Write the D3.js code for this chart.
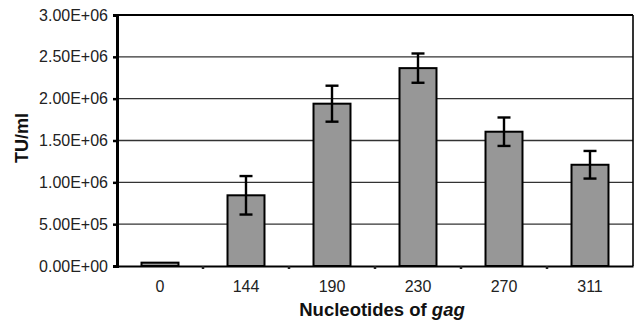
<!DOCTYPE html>
<html lang="en">
<head>
<meta charset="UTF-8" />
<title>TU/ml by nucleotides of gag</title>
<script src="https://d3js.org/d3.v7.min.js"></script>
<style>
  body { margin: 0; background: #fff; }
  .grid line { stroke: #333; stroke-width: 1.3px; }
  .bar { fill: #979797; stroke: #000; stroke-width: 2px; }
  .err { stroke: #000; stroke-width: 2.4px; fill: none; }
</style>
</head>
<body>
<svg width="637" height="323"></svg>
<script>
// data
const categories = ["0", "144", "190", "230", "270", "311"];
const values = [40000, 845000, 1940000, 2365000, 1605000, 1210000];
const errors = [0, 230000, 215000, 175000, 170000, 165000];
const yTicks = [0, 500000, 1000000, 1500000, 2000000, 2500000, 3000000];

const FONT = "'Liberation Sans', Arial, sans-serif";
const svg = d3.select("svg");
const margin = { top: 15, right: 4, bottom: 57, left: 117 };
const W = 637, H = 323;
const x0 = margin.left, x1 = W - margin.right;
const y0 = H - margin.bottom, y1 = margin.top;

const x = d3.scaleBand().domain(categories).range([x0, x1]);
const y = d3.scaleLinear().domain([0, 3000000]).range([y0, y1]);
const fmt = v => v.toExponential(2).toUpperCase().replace(/E([+-])(\d)$/, "E$10$2");

// gridlines
svg.append("g").attr("class", "grid")
  .selectAll("line").data(yTicks.slice(1, -1)).enter().append("line")
  .attr("x1", x0).attr("x2", x1)
  .attr("y1", d => y(d)).attr("y2", d => y(d));

// frame top / right
svg.append("line").attr("x1", x0).attr("x2", x1).attr("y1", y1).attr("y2", y1)
  .attr("stroke", "#000").attr("stroke-width", 2.2);
svg.append("line").attr("x1", x1).attr("x2", x1).attr("y1", y1).attr("y2", y0)
  .attr("stroke", "#000").attr("stroke-width", 1.6);

// bars
const bw = x.bandwidth() * 0.43;
svg.append("g").selectAll("rect").data(values).enter().append("rect")
  .attr("class", "bar")
  .attr("x", (d, i) => x(categories[i]) + (x.bandwidth() - bw) / 2)
  .attr("width", bw)
  .attr("y", d => y(d))
  .attr("height", d => y(0) - y(d));

// error bars
const eg = svg.append("g");
values.forEach((v, i) => {
  if (!errors[i]) return;
  const cx = x(categories[i]) + x.bandwidth() / 2;
  const hi = y(v + errors[i]), lo = y(v - errors[i]);
  eg.append("line").attr("class", "err").attr("x1", cx).attr("x2", cx).attr("y1", hi).attr("y2", lo);
  [hi, lo].forEach(yy => eg.append("line").attr("class", "err")
    .attr("x1", cx - 6.5).attr("x2", cx + 6.5).attr("y1", yy).attr("y2", yy));
});

// y axis
const ya = svg.append("g").attr("transform", `translate(${x0},0)`)
  .call(d3.axisLeft(y).tickValues(yTicks).tickFormat(fmt).tickSize(4).tickPadding(5));
ya.select(".domain").attr("stroke", "#000").attr("stroke-width", 3);
ya.selectAll(".tick line").attr("stroke", "#000").attr("stroke-width", 2.5);
ya.selectAll(".tick text").style("font-family", FONT).style("font-size", "16px").attr("fill", "#222");

// x axis
const xa = svg.append("g").attr("transform", `translate(0,${y0})`)
  .call(d3.axisBottom(x).tickSize(0).tickPadding(15));
xa.select(".domain").attr("stroke", "#000").attr("stroke-width", 2.2);
xa.selectAll(".tick text").style("font-family", FONT).style("font-size", "16px").attr("fill", "#222");
// small marks between categories
xa.selectAll(".sep").data(categories.slice(1)).enter().append("line")
  .attr("x1", d => x(d)).attr("x2", d => x(d)).attr("y1", 0).attr("y2", 3)
  .attr("stroke", "#222").attr("stroke-width", 2.5);

// axis titles
svg.append("text")
  .attr("transform", "translate(28,138) rotate(-90)")
  .attr("text-anchor", "middle")
  .style("font-family", FONT).style("font-weight", "bold").style("font-size", "18px").attr("fill", "#111")
  .text("TU/ml");

const t = svg.append("text")
  .attr("x", 382).attr("y", 316)
  .attr("text-anchor", "middle")
  .style("font-family", FONT).style("font-weight", "bold").style("font-size", "18.5px").attr("fill", "#111");
t.append("tspan").text("Nucleotides of ");
t.append("tspan").style("font-style", "italic").text("gag");
</script>
</body>
</html>
